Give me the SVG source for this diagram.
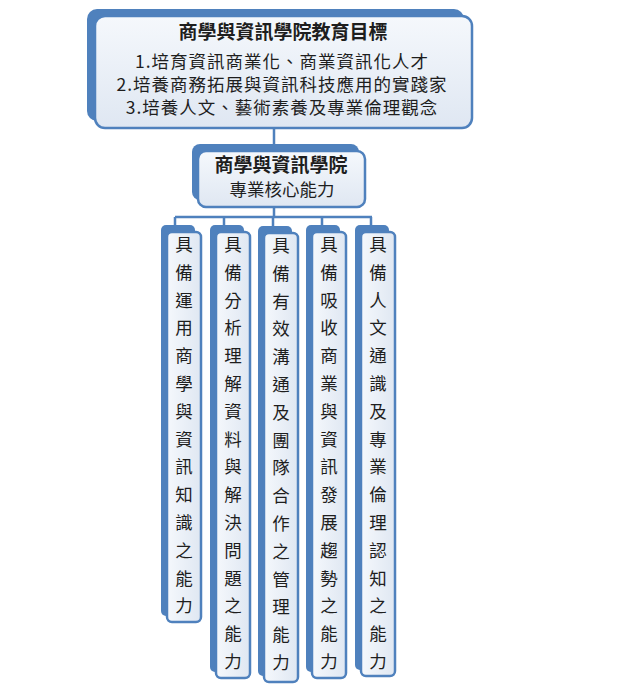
<svg xmlns="http://www.w3.org/2000/svg" width="636" height="700" viewBox="0 0 636 700">
<defs>
<linearGradient id="g" x1="0" y1="0" x2="0" y2="1">
<stop offset="0" stop-color="#f5f8fc"/>
<stop offset="1" stop-color="#dfe7f2"/>
</linearGradient>
<linearGradient id="gv" x1="0" y1="0" x2="1" y2="0">
<stop offset="0" stop-color="#f5f8fc"/>
<stop offset="1" stop-color="#dfe7f2"/>
</linearGradient>
<style>
.sh{fill:#4f81bd;}
.fr{fill:url(#g);stroke:#4f81bd;stroke-width:2.5;}
.frv{fill:url(#gv);stroke:#4f81bd;stroke-width:2.5;}
.con{stroke:#4f81bd;stroke-width:2.5;fill:none;}
text{font-family:"Noto Sans CJK TC","Noto Sans CJK SC",sans-serif;fill:#1e1e1e;text-anchor:middle;}
.t{font-size:19px;font-weight:bold;}
.b{font-size:17.5px;letter-spacing:1px;}
.m{font-size:17.5px;}
.c{font-size:17.5px;}
</style>
</defs>
<rect width="636" height="700" fill="#ffffff"/>
<g id="connectors">
<path class="con" d="M274 128V146M274 207V217M175 217H372M175 217V226M224 217V226M273 217V226M322 217V226M371 217V226"/>
</g>
<g id="goals">
<rect class="sh" x="87" y="9" width="377" height="112" rx="10"/>
<rect class="fr" x="95" y="16" width="377" height="112" rx="10"/>
<text class="t" x="283" y="39">商學與資訊學院教育目標</text>
<text class="b" x="282" y="68">1.培育資訊商業化、商業資訊化人才</text>
<text class="b" x="282" y="91">2.培養商務拓展與資訊科技應用的實踐家</text>
<text class="b" x="282" y="114">3.培養人文、藝術素養及專業倫理觀念</text>
</g>
<g id="core">
<rect class="sh" x="192" y="144" width="167" height="56" rx="8"/>
<rect class="fr" x="198" y="151" width="167" height="56" rx="8"/>
<text class="t" x="281" y="172">商學與資訊學院</text>
<text class="m" x="282" y="196">專業核心能力</text>
</g>
<g id="col1">
<rect class="sh" x="161" y="225" width="34" height="391" rx="5"/>
<rect class="frv" x="167" y="232" width="34" height="390" rx="5"/>
<text class="c"><tspan x="184" y="251">具</tspan><tspan x="184" dy="27.8">備</tspan><tspan x="184" dy="27.8">運</tspan><tspan x="184" dy="27.8">用</tspan><tspan x="184" dy="27.8">商</tspan><tspan x="184" dy="27.8">學</tspan><tspan x="184" dy="27.8">與</tspan><tspan x="184" dy="27.8">資</tspan><tspan x="184" dy="27.8">訊</tspan><tspan x="184" dy="27.8">知</tspan><tspan x="184" dy="27.8">識</tspan><tspan x="184" dy="27.8">之</tspan><tspan x="184" dy="27.8">能</tspan><tspan x="184" dy="27.8">力</tspan></text>
</g>
<g id="col2">
<rect class="sh" x="210" y="225" width="34" height="447" rx="5"/>
<rect class="frv" x="216" y="232" width="34" height="446" rx="5"/>
<text class="c"><tspan x="233" y="251">具</tspan><tspan x="233" dy="27.8">備</tspan><tspan x="233" dy="27.8">分</tspan><tspan x="233" dy="27.8">析</tspan><tspan x="233" dy="27.8">理</tspan><tspan x="233" dy="27.8">解</tspan><tspan x="233" dy="27.8">資</tspan><tspan x="233" dy="27.8">料</tspan><tspan x="233" dy="27.8">與</tspan><tspan x="233" dy="27.8">解</tspan><tspan x="233" dy="27.8">決</tspan><tspan x="233" dy="27.8">問</tspan><tspan x="233" dy="27.8">題</tspan><tspan x="233" dy="27.8">之</tspan><tspan x="233" dy="27.8">能</tspan><tspan x="233" dy="27.8">力</tspan></text>
</g>
<g id="col3">
<rect class="sh" x="258" y="226" width="34" height="450" rx="5"/>
<rect class="frv" x="264" y="233" width="34" height="449" rx="5"/>
<text class="c"><tspan x="281" y="252">具</tspan><tspan x="281" dy="27.8">備</tspan><tspan x="281" dy="27.8">有</tspan><tspan x="281" dy="27.8">效</tspan><tspan x="281" dy="27.8">溝</tspan><tspan x="281" dy="27.8">通</tspan><tspan x="281" dy="27.8">及</tspan><tspan x="281" dy="27.8">團</tspan><tspan x="281" dy="27.8">隊</tspan><tspan x="281" dy="27.8">合</tspan><tspan x="281" dy="27.8">作</tspan><tspan x="281" dy="27.8">之</tspan><tspan x="281" dy="27.8">管</tspan><tspan x="281" dy="27.8">理</tspan><tspan x="281" dy="27.8">能</tspan><tspan x="281" dy="27.8">力</tspan></text>
</g>
<g id="col4">
<rect class="sh" x="306" y="225" width="34" height="447" rx="5"/>
<rect class="frv" x="312" y="232" width="34" height="446" rx="5"/>
<text class="c"><tspan x="329" y="251">具</tspan><tspan x="329" dy="27.8">備</tspan><tspan x="329" dy="27.8">吸</tspan><tspan x="329" dy="27.8">收</tspan><tspan x="329" dy="27.8">商</tspan><tspan x="329" dy="27.8">業</tspan><tspan x="329" dy="27.8">與</tspan><tspan x="329" dy="27.8">資</tspan><tspan x="329" dy="27.8">訊</tspan><tspan x="329" dy="27.8">發</tspan><tspan x="329" dy="27.8">展</tspan><tspan x="329" dy="27.8">趨</tspan><tspan x="329" dy="27.8">勢</tspan><tspan x="329" dy="27.8">之</tspan><tspan x="329" dy="27.8">能</tspan><tspan x="329" dy="27.8">力</tspan></text>
</g>
<g id="col5">
<rect class="sh" x="355" y="225" width="34" height="445" rx="5"/>
<rect class="frv" x="361" y="232" width="34" height="444" rx="5"/>
<text class="c"><tspan x="378" y="251">具</tspan><tspan x="378" dy="27.8">備</tspan><tspan x="378" dy="27.8">人</tspan><tspan x="378" dy="27.8">文</tspan><tspan x="378" dy="27.8">通</tspan><tspan x="378" dy="27.8">識</tspan><tspan x="378" dy="27.8">及</tspan><tspan x="378" dy="27.8">專</tspan><tspan x="378" dy="27.8">業</tspan><tspan x="378" dy="27.8">倫</tspan><tspan x="378" dy="27.8">理</tspan><tspan x="378" dy="27.8">認</tspan><tspan x="378" dy="27.8">知</tspan><tspan x="378" dy="27.8">之</tspan><tspan x="378" dy="27.8">能</tspan><tspan x="378" dy="27.8">力</tspan></text>
</g>
</svg>
